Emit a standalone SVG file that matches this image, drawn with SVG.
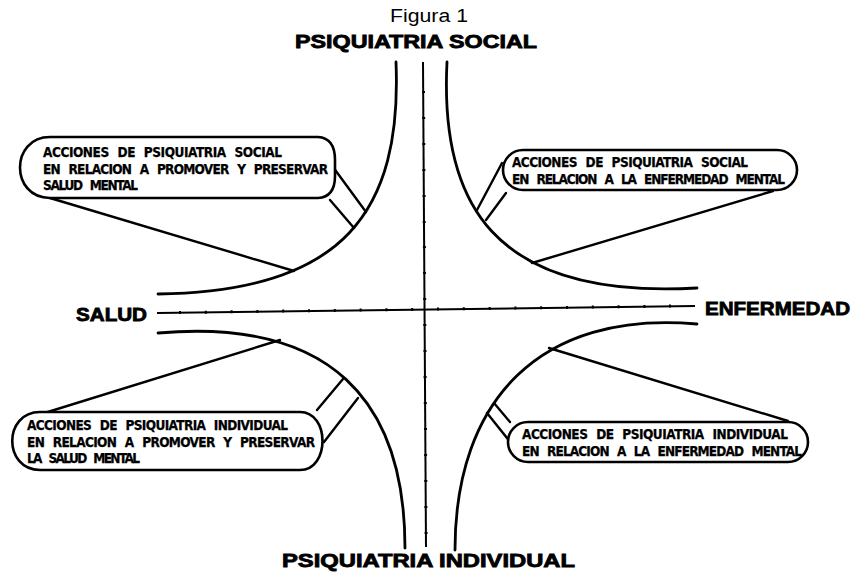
<svg xmlns="http://www.w3.org/2000/svg" width="858" height="574" viewBox="0 0 858 574">
<defs>
<style>
.bg{fill:#fff}
.axis{fill:none;stroke:#000;stroke-width:2}
.tick{fill:none;stroke:#000;stroke-width:2}
.curve{fill:none;stroke:#000;stroke-width:2.8;stroke-linecap:round}
.box{fill:#fff;stroke:#000;stroke-width:2.6}
.tail{fill:none;stroke:#000;stroke-width:2.4;stroke-linecap:round}
.lab{font-family:"Liberation Sans",Arial,sans-serif;font-weight:900;font-size:18px;fill:#000;stroke:#000;stroke-width:0.8}
.fig{font-family:"Liberation Sans",Arial,sans-serif;font-size:18px;fill:#000}
.bt{font-family:"Liberation Sans Narrow","DejaVu Sans Condensed","Liberation Sans",sans-serif;font-weight:bold;font-size:13.5px;fill:#000;stroke:#000;stroke-width:0.25;word-spacing:5px}
</style>
</defs>
<rect class="bg" x="0" y="0" width="858" height="574"/>

<g id="axes">
<line class="axis" x1="157" y1="313" x2="695" y2="306"/>
<line class="axis" x1="423" y1="62" x2="426" y2="547"/>
<g id="ticks-h">
<path class="tick" d="M180,311v3 M205.8,310.7v3 M231.6,310.3v3 M257.4,310v3 M283.2,309.6v3 M309,309.3v3 M334.8,309v3 M360.6,308.6v3 M386.4,308.3v3 M412.2,307.9v3 M438,307.6v3 M463.8,307.3v3 M489.6,306.9v3 M515.4,306.6v3 M541.2,306.2v3 M567,305.9v3 M592.8,305.6v3 M618.6,305.2v3 M644.4,304.9v3 M670,304.5v3"/>
</g>
<g id="ticks-v">
<path class="tick" d="M422,92h3 M422.2,118h3 M422.3,144h3 M422.4,170h3 M422.6,196h3 M422.7,222h3 M422.9,247h3 M423,273h3 M423.2,299h3 M423.3,325h3 M423.5,351h3 M423.6,377h3 M423.8,403h3 M424,429h3 M424.1,455h3 M424.3,481h3 M424.4,507h3 M424.6,533h3"/>
</g>
</g>

<g id="curves">
<path id="curve-tl" class="curve" d="M396,62 C402,210 345,292 158,294"/>
<path id="curve-tr" class="curve" d="M447,62 C440,200 490,300 697,288"/>
<path id="curve-bl" class="curve" d="M158,333 C330,318 405,400 405,548"/>
<path id="curve-br" class="curve" d="M697,324 C540,310 455,400 455,550"/>
</g>

<g id="connectors">
<line class="tail" x1="50" y1="198" x2="294" y2="271"/>
<line class="tail" x1="333" y1="167" x2="366" y2="212"/>
<line class="tail" x1="330" y1="200" x2="354" y2="228"/>
<line class="tail" x1="502" y1="163" x2="477" y2="210"/>
<line class="tail" x1="506" y1="193" x2="486" y2="220"/>
<line class="tail" x1="773" y1="191" x2="532" y2="263"/>
<line class="tail" x1="38" y1="415" x2="280" y2="340"/>
<line class="tail" x1="324" y1="442" x2="358" y2="398"/>
<line class="tail" x1="317" y1="410" x2="343" y2="379"/>
<line class="tail" x1="788" y1="421" x2="549" y2="348"/>
<line class="tail" x1="511" y1="443" x2="487" y2="413"/>
<line class="tail" x1="510" y1="422" x2="494" y2="403"/>
</g>

<g id="box-social-salud">
<path class="box" d="M50,137 H318 Q335,138 335,160 V176 Q335,197 318,198 H50 C10,198 10,137 50,137 Z"/>
<text class="bt" x="43" y="157" textLength="239" lengthAdjust="spacing">ACCIONES DE PSIQUIATRIA SOCIAL</text>
<text class="bt" x="43" y="174" textLength="285" lengthAdjust="spacing">EN RELACION A PROMOVER Y PRESERVAR</text>
<text class="bt" x="43" y="190" textLength="95" lengthAdjust="spacing">SALUD MENTAL</text>
</g>

<g id="box-social-enfermedad">
<rect class="box" x="503" y="150" width="294" height="40" rx="20" ry="20"/>
<text class="bt" x="512" y="167" textLength="236" lengthAdjust="spacing">ACCIONES DE PSIQUIATRIA SOCIAL</text>
<text class="bt" x="512" y="184" textLength="273" lengthAdjust="spacing">EN RELACION A LA ENFERMEDAD MENTAL</text>
</g>

<g id="box-individual-salud">
<path class="box" d="M40,412 H300 C330,412 330,470 300,470 H40 C3,470 3,412 40,412 Z"/>
<text class="bt" x="27" y="430" textLength="261" lengthAdjust="spacing">ACCIONES DE PSIQUIATRIA INDIVIDUAL</text>
<text class="bt" x="27" y="447" textLength="288" lengthAdjust="spacing">EN RELACION A PROMOVER Y PRESERVAR</text>
<text class="bt" x="27" y="463" textLength="113" lengthAdjust="spacing">LA SALUD MENTAL</text>
</g>

<g id="box-individual-enfermedad">
<rect class="box" x="508" y="422" width="300" height="40" rx="20" ry="20"/>
<text class="bt" x="522" y="439" textLength="266" lengthAdjust="spacing">ACCIONES DE PSIQUIATRIA INDIVIDUAL</text>
<text class="bt" x="522" y="456" textLength="280" lengthAdjust="spacing">EN RELACION A LA ENFERMEDAD MENTAL</text>
</g>

<g id="title">
<text class="fig" x="390" y="22" textLength="78" lengthAdjust="spacingAndGlyphs">Figura 1</text>
</g>
<g id="label-social">
<text class="lab" x="295" y="48" textLength="242" lengthAdjust="spacingAndGlyphs">PSIQUIATRIA SOCIAL</text>
</g>
<g id="label-individual">
<text class="lab" x="282" y="567" textLength="293" lengthAdjust="spacingAndGlyphs">PSIQUIATRIA INDIVIDUAL</text>
</g>
<g id="label-salud">
<text class="lab" x="76" y="321" textLength="71" lengthAdjust="spacingAndGlyphs">SALUD</text>
</g>
<g id="label-enfermedad">
<text class="lab" x="705" y="315" textLength="145" lengthAdjust="spacingAndGlyphs">ENFERMEDAD</text>
</g>
</svg>
